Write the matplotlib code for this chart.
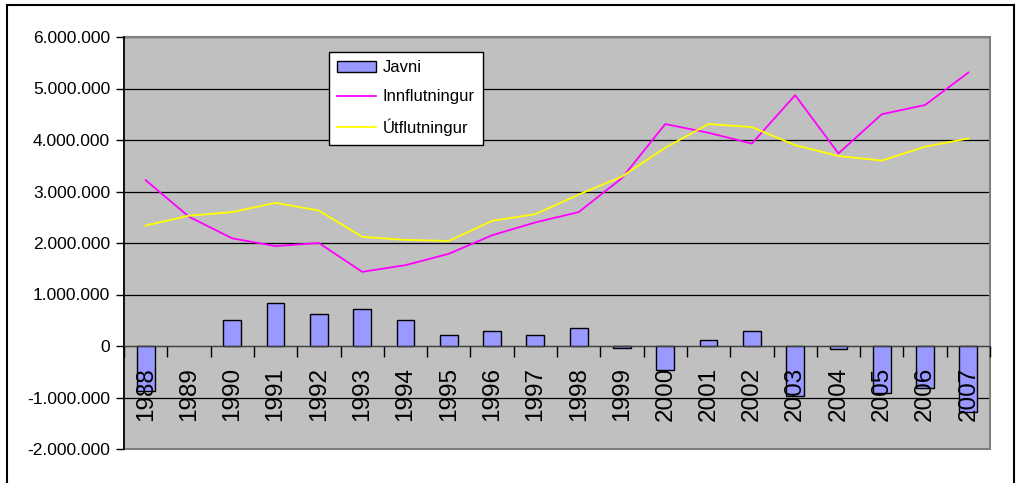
import numpy as np
import matplotlib
matplotlib.use("Agg")
import matplotlib.pyplot as plt
from matplotlib.patches import Rectangle
from matplotlib.ticker import FuncFormatter

plt.rcParams['font.family'] = ['Liberation Sans', 'DejaVu Sans']

# ----------------------------------------------------------
# Data
# ----------------------------------------------------------
years = [str(y) for y in range(1988, 2008)]

javni = [-870000, 0, 500000, 840000, 620000, 720000, 500000, 220000, 285000, 220000,
         340000, -40000, -470000, 120000, 300000, -970000, -65000, -910000, -820000, -1280000]

innflutningur = [3220000, 2510000, 2090000, 1940000, 2000000, 1440000, 1570000, 1790000,
                 2150000, 2400000, 2600000, 3260000, 4310000, 4140000, 3930000, 4870000,
                 3740000, 4500000, 4680000, 5310000]

utflutningur = [2340000, 2530000, 2600000, 2780000, 2630000, 2120000, 2060000, 2040000,
                2430000, 2560000, 2940000, 3290000, 3850000, 4310000, 4250000, 3900000,
                3690000, 3600000, 3870000, 4030000]

y_ticks = np.arange(-2000000, 6000001, 1000000)

# ----------------------------------------------------------
# Plot
# ----------------------------------------------------------
fig = plt.figure(figsize=(10.21, 4.83), dpi=100)
ax = fig.add_axes([124 / 1021, 34 / 483, 866 / 1021, 412 / 483])
ax.set_facecolor("#C0C0C0")

x = np.arange(len(years))

for yv in y_ticks:
    ax.axhline(yv, color="black", lw=0.9, zorder=0.5)

bars = ax.bar(x, javni, width=0.41, color="#9999FF", edgecolor="black", linewidth=1.0,
              label="Javni", zorder=1)
for b, v in zip(bars, javni):
    if v == 0:
        b.set_linewidth(0)
l1, = ax.plot(x, innflutningur, color="#FF00FF", lw=1.3, label="Innflutningur", zorder=3)
l2, = ax.plot(x, utflutningur, color="#FFFF00", lw=1.3, label="Útflutningur", zorder=3)

ax.set_xlim(-0.5, len(years) - 0.5)
ax.set_ylim(-2000000, 6000000)

# axes / spines
ax.spines['bottom'].set_position(('data', 0))
ax.spines['bottom'].set_color("#404040")
ax.spines['top'].set_visible(False)
ax.spines['right'].set_visible(False)
ax.spines['left'].set_color("black")
ax.spines['left'].set_linewidth(1.2)
ax.add_patch(Rectangle((0, 0), 1, 1, transform=ax.transAxes, fill=False,
                       edgecolor="#808080", lw=1.5, zorder=0.6, clip_on=False))

ax.set_yticks(y_ticks)
ax.yaxis.set_major_formatter(FuncFormatter(lambda v, p: f"{int(v):,}".replace(",", ".")))
ax.tick_params(axis='y', direction='out', length=6, width=1, pad=4, labelsize=12.5)

ax.set_xticks(np.arange(-0.5, len(years)))
ax.set_xticklabels([])
ax.tick_params(axis='x', which='major', direction='out', length=8, width=1)
ax.set_xticks(x, minor=True)
ax.set_xticklabels(years, minor=True, rotation=90, fontsize=17.5)
ax.tick_params(axis='x', which='minor', length=0, pad=15)

leg = ax.legend([bars, l1, l2], ["Javni", "Innflutningur", "Útflutningur"],
                loc="upper left", bbox_to_anchor=(329 / 1021, 1 - 52 / 483),
                bbox_transform=fig.transFigure, fontsize=12, frameon=True,
                fancybox=False, framealpha=1, edgecolor="black",
                handlelength=2.3, handleheight=0.7, labelspacing=0.85,
                borderpad=0.5, handletextpad=0.4, borderaxespad=0)
leg.get_frame().set_linewidth(1.0)

# outer chart border
fig.patches.append(Rectangle((7 / 1021, -0.05), 1007 / 1021, 1 - 5 / 483 + 0.05,
                             transform=fig.transFigure, fill=False,
                             edgecolor="black", lw=1.5))

plt.savefig("out.png", dpi=100)
